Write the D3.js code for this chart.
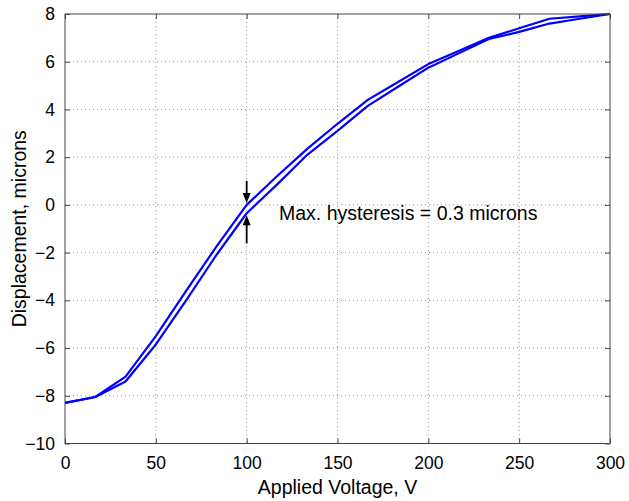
<!DOCTYPE html>
<html><head><meta charset="utf-8">
<script src="https://cdn.jsdelivr.net/npm/d3@7"></script>
<style>body{margin:0;background:#fff}svg{display:block}text{font-family:"Liberation Sans",Arial,Helvetica,sans-serif;fill:#000}</style>
</head><body><svg id="c" width="629" height="501"></svg>
<script>
const voltage = [0, 16.67, 33.33, 50, 66.67, 83.33, 100, 116.67, 133.33, 150, 166.67, 183.33, 200, 216.67, 233.33, 250, 266.67, 283.33, 300];
const upperBranch = [-8.3, -8.05, -7.2, -5.5, -3.6, -1.75, 0.0, 1.2, 2.35, 3.4, 4.4, 5.15, 5.9, 6.45, 7.0, 7.4, 7.8, 7.9, 8.0];
const lowerBranch = [-8.3, -8.05, -7.4, -5.85, -4.0, -2.1, -0.35, 0.85, 2.1, 3.1, 4.15, 4.95, 5.75, 6.35, 6.95, 7.25, 7.6, 7.8, 8.0];
const xTicks = [0, 50, 100, 150, 200, 250, 300];
const yTicks = [-10, -8, -6, -4, -2, 0, 2, 4, 6, 8];
const annotationText = "Max. hysteresis = 0.3 microns";
const annotationV = 100;
const xTitle = "Applied Voltage, V";
const yTitle = "Displacement, microns";

const svg = d3.select("#c");
const m = {l: 65, r: 19, t: 14, b: 57.5};
const W = 629, H = 501;
const x = d3.scaleLinear().domain([0, 300]).range([m.l, W - m.r]);
const y = d3.scaleLinear().domain([-10, 8]).range([H - m.b, m.t]);
const pw = W - m.l - m.r, ph = H - m.t - m.b;

// grid
const g = svg.append("g");
g.selectAll(".gx").data(xTicks.slice(1, -1)).join("line")
  .attr("x1", d => x(d)).attr("x2", d => x(d)).attr("y1", m.t).attr("y2", H - m.b)
  .attr("stroke", "#9a9a9a").attr("stroke-width", 1).attr("stroke-dasharray", "1,3");
g.selectAll(".gy").data(yTicks.slice(1, -1)).join("line")
  .attr("x1", m.l).attr("x2", W - m.r).attr("y1", d => y(d)).attr("y2", d => y(d))
  .attr("stroke", "#9a9a9a").attr("stroke-width", 1).attr("stroke-dasharray", "1,3");

// curves
const line = d3.line().x((d, i) => x(voltage[i])).y(d => y(d));
[upperBranch, lowerBranch].forEach(s => {
  svg.append("path").attr("d", line(s)).attr("fill", "none")
    .attr("stroke", "#0000ff").attr("stroke-width", 2.2).attr("stroke-linejoin", "round");
});

// axes (inner ticks, box)
const axCol = "#444";
const ax = (gen, tr) => {
  const a = svg.append("g").attr("transform", tr).call(gen);
  a.select(".domain").remove();
  a.selectAll(".tick line").attr("stroke", axCol);
  a.selectAll("text").style("font-size", "17.5px").style("font-family", "'Liberation Sans',Arial,sans-serif").attr("fill", "#000");
  return a;
};
ax(d3.axisBottom(x).tickValues(xTicks).tickSize(-5).tickPadding(13), `translate(0,${H - m.b})`);
ax(d3.axisLeft(y).tickValues(yTicks).tickSize(-5).tickPadding(10), `translate(${m.l},0)`);
ax(d3.axisTop(x).tickValues(xTicks).tickSize(-5).tickFormat(""), `translate(0,${m.t})`);
ax(d3.axisRight(y).tickValues(yTicks).tickSize(-5).tickFormat(""), `translate(${W - m.r},0)`);
svg.append("rect").attr("x", m.l).attr("y", m.t).attr("width", pw).attr("height", ph)
  .attr("fill", "none").attr("stroke", axCol).attr("stroke-width", 1);

// arrows
const iV = voltage.indexOf(annotationV);
const ax0 = x(annotationV);
const yU = y(upperBranch[iV]) - 2, yL = y(lowerBranch[iV]) + 2;
svg.append("line").attr("x1", ax0).attr("x2", ax0).attr("y1", yU - 22).attr("y2", yU - 8).attr("stroke", "#000").attr("stroke-width", 1.8);
svg.append("path").attr("d", `M${ax0 - 4},${yU - 10}L${ax0 + 4},${yU - 10}L${ax0},${yU}Z`).attr("fill", "#000");
svg.append("line").attr("x1", ax0).attr("x2", ax0).attr("y1", yL + 8).attr("y2", yL + 28).attr("stroke", "#000").attr("stroke-width", 1.8);
svg.append("path").attr("d", `M${ax0 - 4},${yL + 10}L${ax0 + 4},${yL + 10}L${ax0},${yL}Z`).attr("fill", "#000");

svg.append("text").attr("x", 279).attr("y", y(-0.3) + 8).style("font-size", "19.5px").text(annotationText);

// titles
svg.append("text").attr("x", m.l + pw / 2).attr("y", 494).attr("text-anchor", "middle").style("font-size", "19.5px").text(xTitle);
svg.append("text").attr("transform", `translate(26,${m.t + ph / 2}) rotate(-90)`).attr("text-anchor", "middle").style("font-size", "19.5px").text(yTitle);
</script></body></html>
